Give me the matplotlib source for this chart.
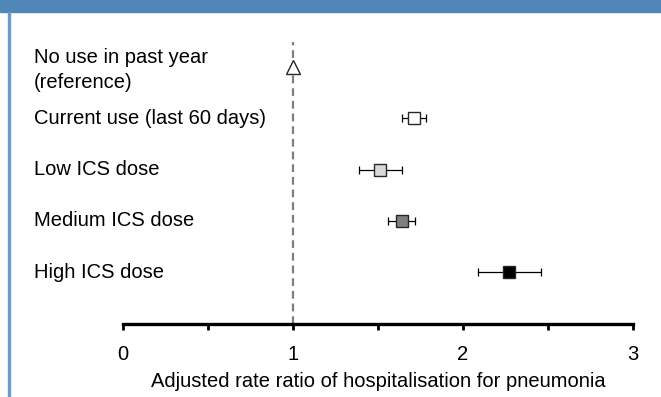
import matplotlib
matplotlib.use("Agg")
import matplotlib.pyplot as plt
from matplotlib.patches import Rectangle
from matplotlib.ticker import MultipleLocator

plt.rcParams['font.family'] = ['Liberation Sans', 'DejaVu Sans']

# 吸入激素使用与肺炎住院风险
labels = ['No use in past year\n(reference)', 'Current use (last 60 days)',
          'Low ICS dose', 'Medium ICS dose', 'High ICS dose']
rr = [1.00, 1.71, 1.51, 1.64, 2.27]
ci_low = [None, 1.64, 1.39, 1.56, 2.09]
ci_high = [None, 1.78, 1.64, 1.72, 2.46]
fills = ['white', 'white', '#d9d9d9', '#7f7f7f', 'black']
markers = ['^', 's', 's', 's', 's']

fig = plt.figure(figsize=(6.61, 3.97), dpi=100)

# 顶部色带和左侧边线
fig.patches.append(Rectangle((0, 1 - 12 / 397), 1, 12 / 397, transform=fig.transFigure,
                             color='#5086b8', zorder=0))
fig.patches.append(Rectangle((7.5 / 661, 0), 2.5 / 661, 1 - 12 / 397, transform=fig.transFigure,
                             color='#6d9cc8', zorder=0))

ax = fig.add_axes([123 / 661, 1 - 324 / 397, 510 / 661, 282 / 397])
ax.set_xlim(0, 3)
ax.set_ylim(5.01, -0.49)

ax.axvline(1, color='#7f7f7f', lw=1.6, ls=(0, (3.5, 2.2)), zorder=1)

for i in range(len(labels)):
    if ci_low[i] is not None:
        ax.errorbar(rr[i], i, xerr=[[rr[i] - ci_low[i]], [ci_high[i] - rr[i]]],
                    fmt='none', ecolor='black', elinewidth=0.9, capsize=3, capthick=0.9, zorder=2)
    size = 10 if markers[i] == '^' else 9
    ax.plot(rr[i], i, marker=markers[i], ms=size, mfc=fills[i], mec='#262626',
            mew=1.0, ls='none', zorder=3)
    fig.text(34 / 661, 1 - (67 + 51.3 * i + (3 if i == 0 else 0)) / 397, labels[i],
             ha='left', va='center', fontsize=14.5, linespacing=1.4)

for s in ['top', 'right', 'left']:
    ax.spines[s].set_visible(False)
ax.spines['bottom'].set_linewidth(2.4)
ax.set_yticks([])
ax.xaxis.set_major_locator(MultipleLocator(1))
ax.xaxis.set_minor_locator(MultipleLocator(0.5))
ax.tick_params(axis='x', which='both', direction='out', length=4, width=2, color='black')
ax.tick_params(axis='x', which='major', labelsize=14.5, pad=11)
ax.set_xlabel('Adjusted rate ratio of hospitalisation for pneumonia', fontsize=14.5, labelpad=6)

fig.savefig('out.png', dpi=100)
